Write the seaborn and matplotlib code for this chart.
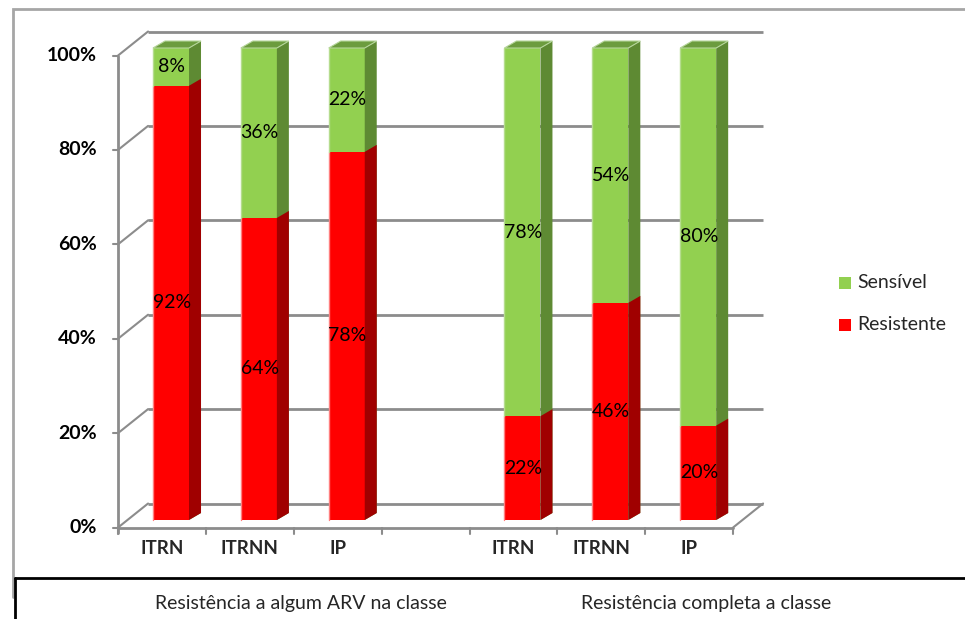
import numpy as np
import pandas as pd
import matplotlib
matplotlib.use("Agg")
import matplotlib.pyplot as plt
from matplotlib.patches import Polygon, Rectangle
from matplotlib.transforms import Affine2D
import seaborn as sns

# ---- data -------------------------------------------------------------
groups = ["Resistência a algum ARV na classe", "Resistência completa a classe"]
classes = ["ITRN", "ITRNN", "IP"]
resistente_algum = [92, 64, 78]
sensivel_algum = [8, 36, 22]
resistente_completa = [22, 46, 20]
sensivel_completa = [78, 54, 80]
y_ticks = [0, 20, 40, 60, 80, 100]
series_names = ["Sensível", "Resistente"]

GREEN, GREEN_SIDE, GREEN_TOP = "#92D050", "#5E8A33", "#6C9C3E"
RED, RED_SIDE = "#FF0000", "#A00000"
GRID = "#8C8C8C"

# ---- table for seaborn --------------------------------------------------
rows = []
for g, (res, sen) in enumerate([(resistente_algum, sensivel_algum),
                                (resistente_completa, sensivel_completa)]):
    for i, c in enumerate(classes):
        rows.append({"pos": g * (len(classes) + 1) + i, "classe": c,
                     "grupo": groups[g], "Resistente": res[i],
                     "Sensível": sen[i], "total": res[i] + sen[i]})
df = pd.DataFrame(rows)

# ---- canvas geometry (pixels) ------------------------------------------
W, H = 965, 619
X0, SX = 171.0, 87.86      # bar centre of slot 0, slot spacing
Y0, SY = 520.0, 4.72       # bar base, pixels per percent
BAR_W = 0.41               # fraction of slot
DXp, DYp = 12, 7           # bar depth in pixels
FRONT_DX, FRONT_DY = -9, 7.5   # front plane relative to bar plane
BACK_DX, BACK_DY = 21, -16.5   # back wall relative to bar plane

fig = plt.figure(figsize=(W / 100, H / 100), dpi=100)
ax = fig.add_axes([0, 0, 1, 1])
ax.set_axis_off()

sns.set_style("white")
plt.rcParams["font.family"] = ["Lato", "DejaVu Sans"]

pix = Affine2D().scale(1 / W, -1 / H).translate(0, 1) + fig.transFigure


def px_x(pos):
    return X0 + SX * pos


def px_y(v):
    return Y0 - SY * v


# ---- walls, floor, axis ------------------------------------------------
n_slots = 7
fx0 = px_x(-0.5) + FRONT_DX
fx1 = px_x(n_slots - 0.5) + FRONT_DX
for v in y_ticks:
    fy = px_y(v) + FRONT_DY
    by = px_y(v) + BACK_DY
    bx0 = fx0 + (BACK_DX - FRONT_DX)
    bx1 = fx1 + (BACK_DX - FRONT_DX)
    # back wall gridline
    ax.plot([bx0, bx1], [by, by], color=GRID, lw=2, transform=pix,
            zorder=0, solid_capstyle="butt")
    # side wall gridline
    ax.plot([fx0, bx0], [fy, by], color=GRID, lw=1.5, transform=pix, zorder=0)
    # tick on the value axis
    ax.plot([fx0 - 5, fx0], [fy, fy], color=GRID, lw=1.5, transform=pix, zorder=0)
    ax.text(fx0 - 21, fy, f"{v}%", transform=pix, ha="right", va="center",
            fontsize=14, fontweight="bold", color="black")

# value axis line
ax.plot([fx0, fx0], [px_y(100) + FRONT_DY, px_y(0) + FRONT_DY + 5], color=GRID,
        lw=2, transform=pix, zorder=0)
# floor front edge with category ticks
floor_y = px_y(0) + FRONT_DY
ax.plot([fx0, fx1], [floor_y, floor_y], color=GRID, lw=2, transform=pix, zorder=0)
for k in range(n_slots + 1):
    tx = px_x(k - 0.5) + FRONT_DX
    ax.plot([tx, tx], [floor_y, floor_y + 6], color=GRID, lw=1.5,
            transform=pix, zorder=0)
# floor right edge
ax.plot([fx1, fx1 + (BACK_DX - FRONT_DX)], [floor_y, px_y(0) + BACK_DY],
        color=GRID, lw=1.5, transform=pix, zorder=0)

# ---- bars ---------------------------------------------------------------
sns.barplot(data=df, x="pos", y="total", native_scale=True, width=BAR_W,
            color=GREEN, saturation=1, errorbar=None, linewidth=0, ax=ax,
            zorder=2)
sns.barplot(data=df, x="pos", y="Resistente", native_scale=True, width=BAR_W,
            color=RED, saturation=1, errorbar=None, linewidth=0, ax=ax,
            zorder=3)

ax.set_xlim((0 - X0) / SX, (W - X0) / SX)
ax.set_ylim((Y0 - H) / SY, Y0 / SY)

ddx, ddy = DXp / SX, DYp / SY
for _, r in df.iterrows():
    x0 = r["pos"] - BAR_W / 2
    x1 = r["pos"] + BAR_W / 2
    top = r["total"]
    red = r["Resistente"]
    # green side and top
    ax.add_patch(Polygon([(x1, 0), (x1 + ddx, ddy), (x1 + ddx, top + ddy), (x1, top)],
                         closed=True, facecolor=GREEN_SIDE, lw=0, zorder=2))
    ax.add_patch(Polygon([(x0, top), (x0 + ddx, top + ddy), (x1 + ddx, top + ddy), (x1, top)],
                         closed=True, facecolor=GREEN_TOP, edgecolor="#B5D59A",
                         lw=0.8, zorder=2))
    # red side
    ax.add_patch(Polygon([(x1, 0), (x1 + ddx, ddy), (x1 + ddx, red + ddy), (x1, red)],
                         closed=True, facecolor=RED_SIDE, lw=0, zorder=3))
    # light left edge highlight on the front faces
    ax.plot([x0, x0], [0, red], color="#FF7F7F", lw=1, zorder=4)
    ax.plot([x0, x0], [red, top], color="#B5DC8E", lw=1, zorder=4)
    # value labels
    ax.text(r["pos"] + 0.01, red / 2, f"{red:.0f}%", ha="center", va="center",
            fontsize=14, color="black", zorder=5)
    sen = r["Sensível"]
    ax.text(r["pos"] + 0.01, red + sen / 2, f"{sen:.0f}%", ha="center",
            va="center", fontsize=14, color="black", zorder=5)

# ---- category and group labels -----------------------------------------
for _, r in df.iterrows():
    ax.text(px_x(r["pos"]) + FRONT_DX, 548, r["classe"], transform=pix,
            ha="center", va="center", fontsize=13.5, fontweight="bold")

group_centres = [301, 706]
for g, name in enumerate(groups):
    ax.text(group_centres[g], 604, name, transform=pix, ha="center",
            va="center", fontsize=14)

# ---- legend -------------------------------------------------------------
for (label, col, ly) in [(series_names[0], GREEN, 283), (series_names[1], RED, 325)]:
    ax.add_patch(Rectangle((839, ly - 6), 12, 12, transform=pix, facecolor=col,
                           lw=0, clip_on=False))
    ax.text(857, ly, label, transform=pix, ha="left", va="center",
            fontsize=14)

# ---- frame and table lines ------------------------------------------------
ax.plot([13, 13, W], [597, 9, 9], color="#A6A6A6", lw=2, transform=pix,
        clip_on=False, solid_joinstyle="miter")
ax.plot([15, W], [578, 578], color="black", lw=2, transform=pix, clip_on=False)
ax.plot([15, 15], [578, H], color="black", lw=2, transform=pix, clip_on=False)

fig.savefig("out.png", dpi=100, facecolor="white")
